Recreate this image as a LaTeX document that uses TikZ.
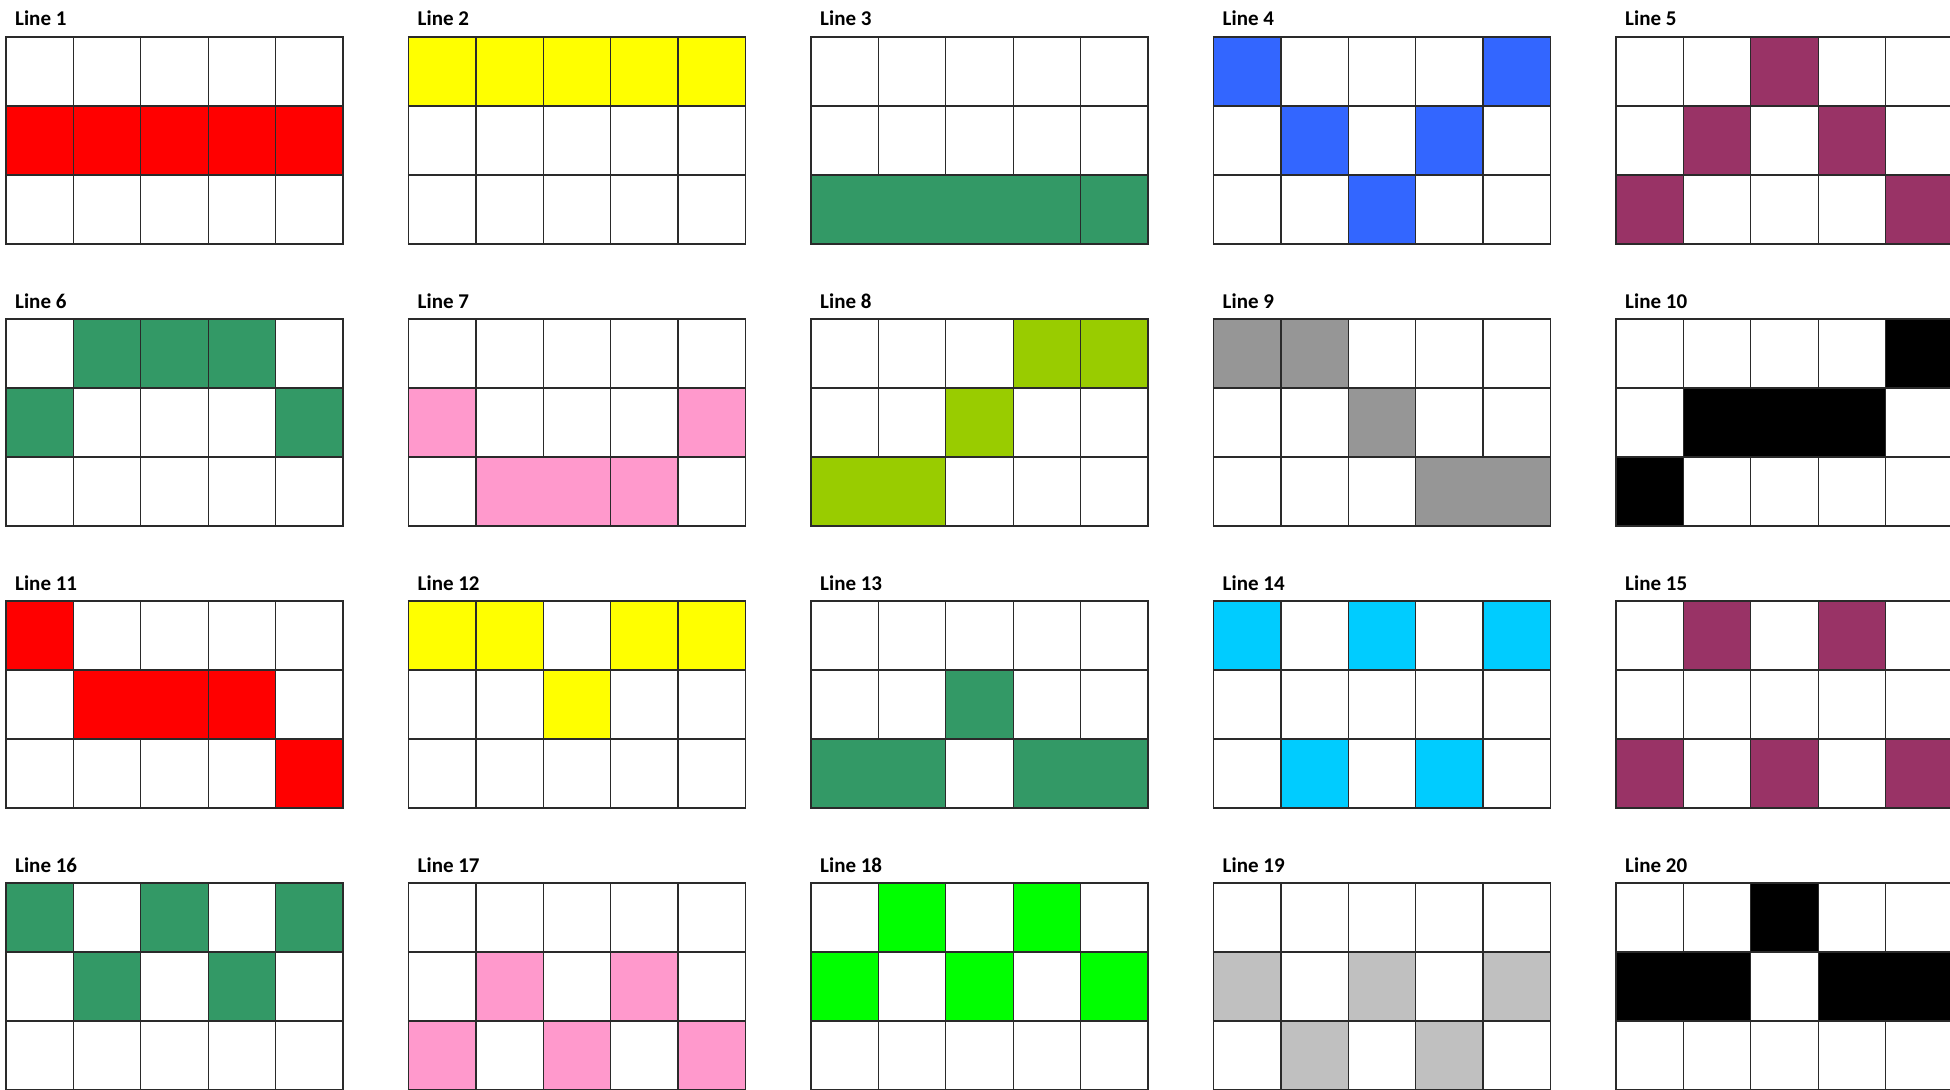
\documentclass[tikz,border=0pt]{standalone}
\usepackage{fontspec}
\setmainfont{Carlito}
\definecolor{cred}{HTML}{FF0000}
\definecolor{cyellow}{HTML}{FFFF00}
\definecolor{cdgreen}{HTML}{339966}
\definecolor{cblue}{HTML}{3366FF}
\definecolor{cpurple}{HTML}{993366}
\definecolor{cpink}{HTML}{FF99CC}
\definecolor{clime}{HTML}{99CC00}
\definecolor{cmgray}{HTML}{969696}
\definecolor{cblack}{HTML}{000000}
\definecolor{ccyan}{HTML}{00CCFF}
\definecolor{cbgreen}{HTML}{00FF00}
\definecolor{clgray}{HTML}{C0C0C0}
\definecolor{cline}{HTML}{2A2A2A}
\tikzset{
  gridline/.style={draw=cline, line width=1.3pt},
  lbl/.style={anchor=base west, inner sep=0pt, font=\bfseries\fontsize{21}{21}\selectfont}
}
% gx gy r c color
\newcommand\cellfill[5]{\fill[#5] ({6+402.5*#1+67.4*(#4-1)},{-(37+282*#2+69*(#3-1))}) rectangle ++(67.4,-69);}
% gx gy r c1 c2 color (merged, covers internal vertical lines)
\newcommand\mergefill[6]{\fill[#6] ({6+402.5*#1+67.4*(#4-1)+0.7},{-(37+282*#2+69*(#3-1))-0.7}) rectangle ({6+402.5*#1+67.4*#5-0.7},{-(37+282*#2+69*#3)+0.7});}
\newcommand\gridlines[2]{%
  \foreach \i in {0,...,5} {\draw[gridline] ({6+402.5*#1+67.4*\i},{-(37+282*#2)}) -- ++(0,-207);}
  \foreach \j in {0,...,3} {\draw[gridline] ({6+402.5*#1-0.6},{-(37+282*#2+69*\j)}) -- ++(338.2,0);}}
\newcommand\gridlabel[4]{\node[lbl] (#1) at ({6+402.5*#2+9},{-(37+282*#3-11)}) {#4};}
\begin{document}
\begin{tikzpicture}[x=1pt,y=1pt]
\useasboundingbox (0,0) rectangle (1950,-1089);
\clip (0,0) rectangle (1950,-1089);
\fill[white] (0,0) rectangle (1950,-1089);
% ---- fills ----
% Line 1
\foreach \c in {1,...,5} {\cellfill{0}{0}{2}{\c}{cred}}
% Line 2
\foreach \c in {1,...,5} {\cellfill{1}{0}{1}{\c}{cyellow}}
% Line 3
\foreach \c in {1,...,5} {\cellfill{2}{0}{3}{\c}{cdgreen}}
% Line 4
\cellfill{3}{0}{1}{1}{cblue}\cellfill{3}{0}{1}{5}{cblue}\cellfill{3}{0}{2}{2}{cblue}\cellfill{3}{0}{2}{4}{cblue}\cellfill{3}{0}{3}{3}{cblue}
% Line 5
\cellfill{4}{0}{1}{3}{cpurple}\cellfill{4}{0}{2}{2}{cpurple}\cellfill{4}{0}{2}{4}{cpurple}\cellfill{4}{0}{3}{1}{cpurple}\cellfill{4}{0}{3}{5}{cpurple}
% Line 6
\cellfill{0}{1}{1}{2}{cdgreen}\cellfill{0}{1}{1}{3}{cdgreen}\cellfill{0}{1}{1}{4}{cdgreen}\cellfill{0}{1}{2}{1}{cdgreen}\cellfill{0}{1}{2}{5}{cdgreen}
% Line 7
\cellfill{1}{1}{2}{1}{cpink}\cellfill{1}{1}{2}{5}{cpink}\cellfill{1}{1}{3}{2}{cpink}\cellfill{1}{1}{3}{3}{cpink}\cellfill{1}{1}{3}{4}{cpink}
% Line 8
\cellfill{2}{1}{1}{4}{clime}\cellfill{2}{1}{1}{5}{clime}\cellfill{2}{1}{2}{3}{clime}\cellfill{2}{1}{3}{1}{clime}\cellfill{2}{1}{3}{2}{clime}
% Line 9
\cellfill{3}{1}{1}{1}{cmgray}\cellfill{3}{1}{1}{2}{cmgray}\cellfill{3}{1}{2}{3}{cmgray}\cellfill{3}{1}{3}{4}{cmgray}\cellfill{3}{1}{3}{5}{cmgray}
% Line 10
\cellfill{4}{1}{1}{5}{cblack}\cellfill{4}{1}{2}{2}{cblack}\cellfill{4}{1}{2}{3}{cblack}\cellfill{4}{1}{2}{4}{cblack}\cellfill{4}{1}{3}{1}{cblack}
% Line 11
\cellfill{0}{2}{1}{1}{cred}\cellfill{0}{2}{2}{2}{cred}\cellfill{0}{2}{2}{3}{cred}\cellfill{0}{2}{2}{4}{cred}\cellfill{0}{2}{3}{5}{cred}
% Line 12
\cellfill{1}{2}{1}{1}{cyellow}\cellfill{1}{2}{1}{2}{cyellow}\cellfill{1}{2}{1}{4}{cyellow}\cellfill{1}{2}{1}{5}{cyellow}\cellfill{1}{2}{2}{3}{cyellow}
% Line 13
\cellfill{2}{2}{2}{3}{cdgreen}\cellfill{2}{2}{3}{1}{cdgreen}\cellfill{2}{2}{3}{2}{cdgreen}\cellfill{2}{2}{3}{4}{cdgreen}\cellfill{2}{2}{3}{5}{cdgreen}
% Line 14
\cellfill{3}{2}{1}{1}{ccyan}\cellfill{3}{2}{1}{3}{ccyan}\cellfill{3}{2}{1}{5}{ccyan}\cellfill{3}{2}{3}{2}{ccyan}\cellfill{3}{2}{3}{4}{ccyan}
% Line 15
\cellfill{4}{2}{1}{2}{cpurple}\cellfill{4}{2}{1}{4}{cpurple}\cellfill{4}{2}{3}{1}{cpurple}\cellfill{4}{2}{3}{3}{cpurple}\cellfill{4}{2}{3}{5}{cpurple}
% Line 16
\cellfill{0}{3}{1}{1}{cdgreen}\cellfill{0}{3}{1}{3}{cdgreen}\cellfill{0}{3}{1}{5}{cdgreen}\cellfill{0}{3}{2}{2}{cdgreen}\cellfill{0}{3}{2}{4}{cdgreen}
% Line 17
\cellfill{1}{3}{2}{2}{cpink}\cellfill{1}{3}{2}{4}{cpink}\cellfill{1}{3}{3}{1}{cpink}\cellfill{1}{3}{3}{3}{cpink}\cellfill{1}{3}{3}{5}{cpink}
% Line 18
\cellfill{2}{3}{1}{2}{cbgreen}\cellfill{2}{3}{1}{4}{cbgreen}\cellfill{2}{3}{2}{1}{cbgreen}\cellfill{2}{3}{2}{3}{cbgreen}\cellfill{2}{3}{2}{5}{cbgreen}
% Line 19
\cellfill{3}{3}{2}{1}{clgray}\cellfill{3}{3}{2}{3}{clgray}\cellfill{3}{3}{2}{5}{clgray}\cellfill{3}{3}{3}{2}{clgray}\cellfill{3}{3}{3}{4}{clgray}
% Line 20
\cellfill{4}{3}{1}{3}{cblack}\cellfill{4}{3}{2}{1}{cblack}\cellfill{4}{3}{2}{2}{cblack}\cellfill{4}{3}{2}{4}{cblack}\cellfill{4}{3}{2}{5}{cblack}
% ---- grids ----
\foreach \gx in {0,...,4} {\foreach \gy in {0,...,3} {\gridlines{\gx}{\gy}}}
% ---- merged fills ----
\mergefill{2}{0}{3}{1}{4}{cdgreen}
\mergefill{1}{1}{3}{2}{3}{cpink}
\mergefill{2}{1}{3}{1}{2}{clime}
\mergefill{3}{1}{3}{4}{5}{cmgray}
\mergefill{4}{1}{2}{2}{4}{cblack}
\mergefill{0}{2}{2}{2}{3}{cred}
\mergefill{2}{2}{3}{1}{2}{cdgreen}
\mergefill{2}{2}{3}{4}{5}{cdgreen}
\mergefill{4}{3}{2}{1}{2}{cblack}
\mergefill{4}{3}{2}{4}{5}{cblack}
% ---- labels ----
\gridlabel{l1}{0}{0}{Line 1}
\gridlabel{l2}{1}{0}{Line 2}
\gridlabel{l3}{2}{0}{Line 3}
\gridlabel{l4}{3}{0}{Line 4}
\gridlabel{l5}{4}{0}{Line 5}
\gridlabel{l6}{0}{1}{Line 6}
\gridlabel{l7}{1}{1}{Line 7}
\gridlabel{l8}{2}{1}{Line 8}
\gridlabel{l9}{3}{1}{Line 9}
\gridlabel{l10}{4}{1}{Line 10}
\gridlabel{l11}{0}{2}{Line 11}
\gridlabel{l12}{1}{2}{Line 12}
\gridlabel{l13}{2}{2}{Line 13}
\gridlabel{l14}{3}{2}{Line 14}
\gridlabel{l15}{4}{2}{Line 15}
\gridlabel{l16}{0}{3}{Line 16}
\gridlabel{l17}{1}{3}{Line 17}
\gridlabel{l18}{2}{3}{Line 18}
\gridlabel{l19}{3}{3}{Line 19}
\gridlabel{l20}{4}{3}{Line 20}
\end{tikzpicture}
\end{document}
